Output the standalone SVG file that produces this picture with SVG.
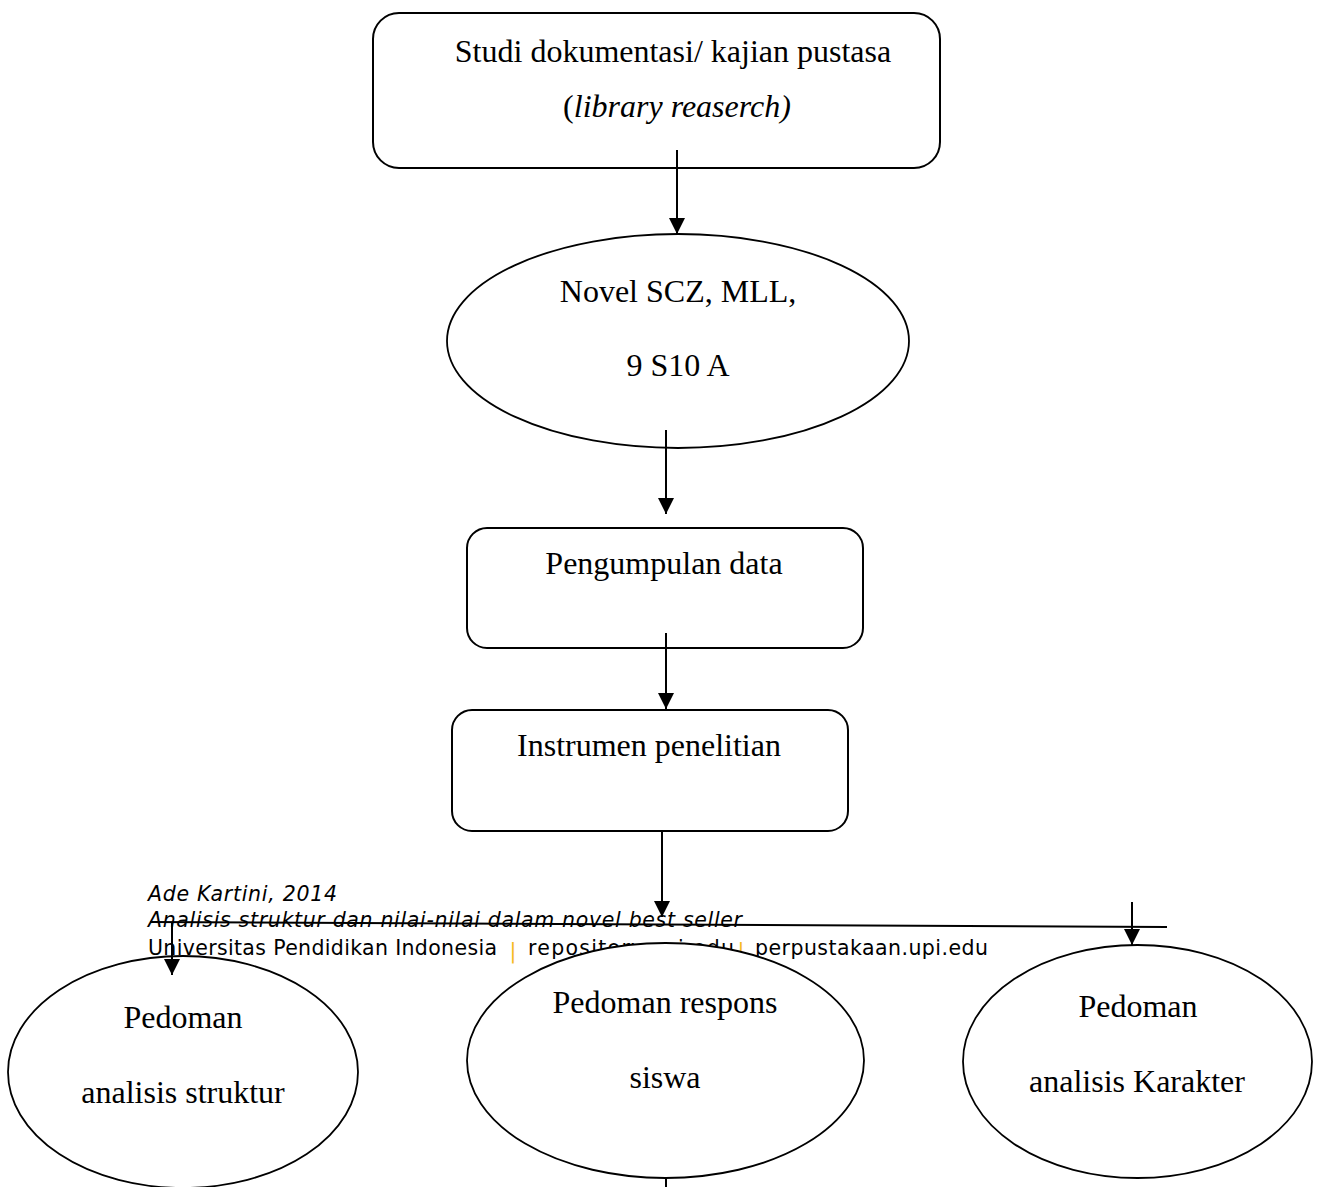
<svg xmlns="http://www.w3.org/2000/svg" width="1319" height="1187" viewBox="0 0 1319 1187">
  <style>
    .shape { fill: #ffffff; stroke: #000000; stroke-width: 2; }
    .ell { fill: #ffffff; stroke: #000000; stroke-width: 1.8; }
    .lbl { font-family: "Liberation Serif", "Times New Roman", serif; font-size: 32px; fill: #000000; text-anchor: middle; }
    .foot { font-family: "DejaVu Sans", "Liberation Sans", sans-serif; font-size: 20.5px; fill: #000000; }
    .bar { fill: #F5B91E; }
    .conn { stroke: #000000; stroke-width: 2; fill: none; }
  </style>
  <defs>
    <marker id="arrow" markerUnits="userSpaceOnUse" markerWidth="16" markerHeight="16" viewBox="0 0 16 16" refX="16" refY="8" orient="auto">
      <path d="M0,0 L16,8 L0,16 Z" fill="#000000"/>
    </marker>
  </defs>
  <rect width="1319" height="1187" fill="#ffffff"/>

  <g id="footer">
    <text class="foot" x="148" y="901" font-style="italic" textLength="189">Ade Kartini, 2014</text>
    <text class="foot" x="148" y="927" font-style="italic" textLength="594">Analisis struktur dan nilai-nilai dalam novel best seller</text>
    <text class="foot" x="148" y="955" textLength="349">Universitas Pendidikan Indonesia</text>
    <text class="foot bar" x="513" y="958" text-anchor="middle">|</text>
    <text class="foot" x="528" y="955" textLength="206">repository.upi.edu</text>
    <text class="foot bar" x="741" y="958" text-anchor="middle">|</text>
    <text class="foot" x="755" y="955" textLength="233">perpustakaan.upi.edu</text>
  </g>

  <g id="node-studi">
    <rect class="shape" x="373" y="13" width="567" height="155" rx="26" ry="26"/>
    <text class="lbl" x="673" y="62">Studi dokumentasi/ kajian pustasa</text>
    <text class="lbl" x="677" y="117">(<tspan font-style="italic">library reaserch)</tspan></text>
  </g>

  <g id="node-novel">
    <ellipse class="ell" cx="678" cy="341" rx="231" ry="107"/>
    <text class="lbl" x="678" y="302">Novel SCZ, MLL,</text>
    <text class="lbl" x="678" y="376">9 S10 A</text>
  </g>

  <g id="node-pengumpulan">
    <rect class="shape" x="467" y="528" width="396" height="120" rx="20" ry="20"/>
    <text class="lbl" x="664" y="574">Pengumpulan data</text>
  </g>

  <g id="node-instrumen">
    <rect class="shape" x="452" y="710" width="396" height="121" rx="20" ry="20"/>
    <text class="lbl" x="649" y="756">Instrumen penelitian</text>
  </g>

  <g id="node-struktur">
    <ellipse class="ell" cx="183" cy="1072" rx="175" ry="116"/>
    <text class="lbl" x="183" y="1028">Pedoman</text>
    <text class="lbl" x="183" y="1103">analisis struktur</text>
  </g>

  <g id="node-respons">
    <ellipse class="ell" cx="665.5" cy="1060.5" rx="198.5" ry="117.5"/>
    <text class="lbl" x="665" y="1013">Pedoman respons</text>
    <text class="lbl" x="665" y="1088">siswa</text>
  </g>

  <g id="node-karakter">
    <ellipse class="ell" cx="1137.5" cy="1061.5" rx="174.5" ry="116.5"/>
    <text class="lbl" x="1138" y="1017">Pedoman</text>
    <text class="lbl" x="1137" y="1092">analisis Karakter</text>
  </g>

  <g id="connectors">
    <line class="conn" x1="677" y1="150" x2="677" y2="234" marker-end="url(#arrow)"/>
    <line class="conn" x1="666" y1="430" x2="666" y2="514" marker-end="url(#arrow)"/>
    <line class="conn" x1="666" y1="633" x2="666" y2="709" marker-end="url(#arrow)"/>
    <line class="conn" x1="662" y1="830" x2="662" y2="917" marker-end="url(#arrow)"/>
    <line class="conn" x1="150" y1="922" x2="1167" y2="927"/>
    <line class="conn" x1="172" y1="922" x2="172" y2="975" marker-end="url(#arrow)"/>
    <line class="conn" x1="1132" y1="902" x2="1132" y2="945" marker-end="url(#arrow)"/>
    <line class="conn" x1="666" y1="1178" x2="666" y2="1187"/>
  </g>
</svg>
